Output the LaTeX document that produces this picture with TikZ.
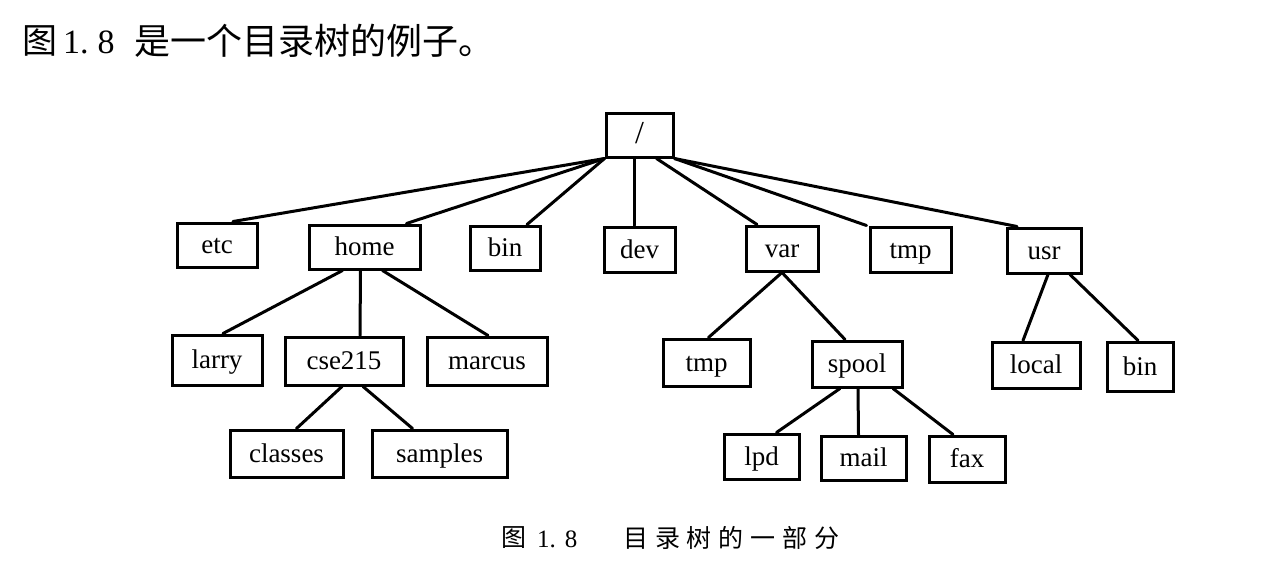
\documentclass[tikz,border=0pt]{standalone}
\usepackage{fontspec}
\setmainfont{Liberation Serif}
\newfontfamily\cjk{Noto Sans CJK SC}
\tikzset{
  box/.style={draw, line width=3pt, inner sep=0pt, font=\fontsize{27}{30}\selectfont, text height=18pt, text depth=1pt},
  edge/.style={line width=3pt, line cap=round},
  txt/.style={anchor=west, inner sep=0pt}
}
\newcommand{\bx}[6]{\node[box, minimum width=#4pt, minimum height=#5pt] (#1) at (#2,#3) {#6};}
\begin{document}
\begin{tikzpicture}[x=1pt,y=-1pt]
\useasboundingbox (0,0) rectangle (1288,582);
\node[txt, font=\fontsize{35}{40}\selectfont\cjk] (introA) at (22,41) {图};
\node[txt, font=\fontsize{34}{40}\selectfont] (introB) at (63,42) {1.\hspace{9pt}8};
\node[txt, font=\fontsize{36}{40}\selectfont\cjk] (introC) at (134,41) {是一个目录树的例子。};
\bx{root}{639.5}{135}{67}{44}{\fontsize{32}{34}\selectfont /}
\bx{etc}{217}{245}{80}{44}{etc}
\bx{home}{364.5}{247}{111}{44}{home}
\bx{bin}{505}{248}{70}{44}{bin}
\bx{dev}{639.5}{249.5}{71}{45}{dev}
\bx{var}{782}{248.5}{72}{45}{var}
\bx{tmp}{910.5}{249.5}{81}{45}{tmp}
\bx{usr}{1044}{250.5}{74}{45}{usr}
\bx{larry}{217}{360}{90}{50}{larry}
\bx{cse}{344}{361}{118}{48}{cse215}
\bx{marcus}{487}{361}{120}{48}{marcus}
\bx{tmpb}{706.5}{362.5}{87}{47}{tmp}
\bx{spool}{857}{364}{90}{46}{spool}
\bx{local}{1036}{365}{88}{46}{local}
\bx{binb}{1140}{366.5}{66}{49}{bin}
\bx{classes}{286.5}{453.5}{113}{47}{classes}
\bx{samples}{439.5}{453.5}{135}{47}{samples}
\bx{lpd}{761.5}{456.5}{75}{45}{lpd}
\bx{mail}{863.5}{458}{85}{44}{mail}
\bx{fax}{967}{459}{76}{46}{fax}
\draw[edge] (root.south west) -- ([xshift=16pt]etc.north);
\draw[edge] (root.south west) -- ([xshift=42pt]home.north);
\draw[edge] (root.south west) -- ([xshift=22pt]bin.north);
\draw[edge] ([xshift=-5pt]root.south) -- ([xshift=-5pt]dev.north);
\draw[edge] ([xshift=17pt]root.south) -- ([xshift=-25pt]var.north);
\draw[edge] (root.south east) -- ([xshift=-2pt]tmp.north west);
\draw[edge] (root.south east) -- ([xshift=-27pt]usr.north);
\draw[edge] ([xshift=-22pt]home.south) -- ([xshift=6pt]larry.north);
\draw[edge] ([xshift=-4pt]home.south) -- ([xshift=16pt]cse.north);
\draw[edge] ([xshift=18pt]home.south) -- ([xshift=1pt]marcus.north);
\draw[edge] ([xshift=-2pt]cse.south) -- ([xshift=10pt]classes.north);
\draw[edge] ([xshift=19pt]cse.south) -- ([xshift=-27pt]samples.north);
\draw[edge] (var.south) -- ([xshift=2pt]tmpb.north);
\draw[edge] (var.south) -- ([xshift=-12pt]spool.north);
\draw[edge] ([xshift=-17pt]spool.south) -- ([xshift=15pt]lpd.north);
\draw[edge] ([xshift=1pt]spool.south) -- ([xshift=-5pt]mail.north);
\draw[edge] ([xshift=36pt]spool.south) -- ([xshift=-14pt]fax.north);
\draw[edge] ([xshift=4pt]usr.south) -- ([xshift=-13pt]local.north);
\draw[edge] ([xshift=26pt]usr.south) -- ([xshift=-2pt]binb.north);
\node[txt, font=\fontsize{25}{28}\selectfont\cjk] (capA) at (501,538) {图};
\node[txt, font=\fontsize{25}{28}\selectfont] (capB) at (537,539) {1.\hspace{9pt}8};
\node[txt, font=\fontsize{25}{28}\selectfont\cjk] (capC) at (623,538) {目\hspace{6.8pt}录\hspace{6.8pt}树\hspace{6.8pt}的\hspace{6.8pt}一\hspace{6.8pt}部\hspace{6.8pt}分};
\end{tikzpicture}
\end{document}
